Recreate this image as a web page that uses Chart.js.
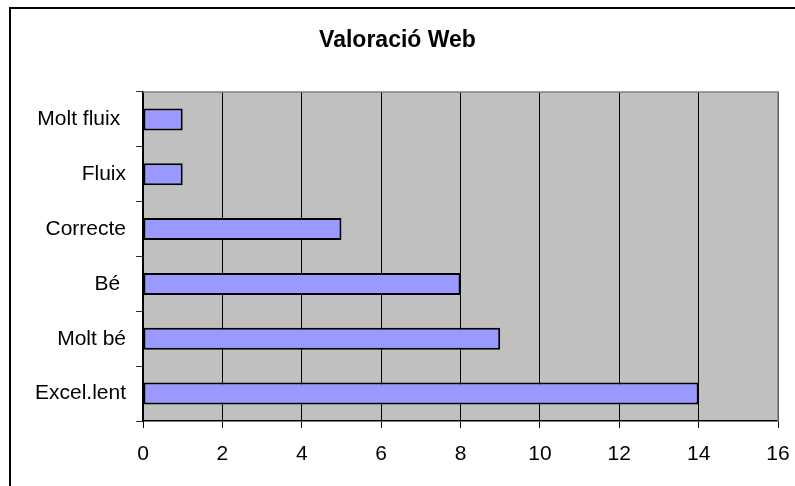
<!DOCTYPE html>
<html>
<head>
<meta charset="utf-8">
<script src="https://cdn.jsdelivr.net/npm/chart.js@4/dist/chart.umd.min.js"></script>
<style>
  html, body { margin:0; padding:0; background:#fff; }
  #wrap { width:795px; height:486px; }
</style>
</head>
<body>
<div id="wrap"><canvas id="chart" width="795" height="486"></canvas></div>
<script>
// Valoració Web - horizontal bar chart

const categories = ['Molt fluix ', 'Fluix', 'Correcte', 'Bé ', 'Molt bé', 'Excel.lent'];
const votes      = [1, 1, 5, 8, 9, 14];
const xTicks     = [0, 2, 4, 6, 8, 10, 12, 14, 16];

const FONT = "Arial, 'Liberation Sans', sans-serif";

// page frame + grey plot background, Excel style
const excelFrame = {
  id: 'excelFrame',
  beforeDraw(chart) {
    const { ctx, chartArea: a } = chart;
    ctx.save();
    ctx.fillStyle = '#fff';
    ctx.fillRect(0, 0, chart.width, chart.height);
    ctx.strokeStyle = '#000';
    ctx.lineWidth = 2;
    ctx.strokeRect(10, 8, chart.width + 20, chart.height + 20);
    ctx.fillStyle = '#C0C0C0';
    ctx.fillRect(a.left, a.top, a.right - a.left, a.bottom - a.top);
    ctx.restore();
  },
  afterDraw(chart) {
    const { ctx, chartArea: a } = chart;
    ctx.save();
    ctx.strokeStyle = '#808080';
    ctx.lineWidth = 1.5;
    ctx.beginPath();
    ctx.moveTo(a.left, a.top);
    ctx.lineTo(a.right, a.top);
    ctx.lineTo(a.right, a.bottom);
    ctx.stroke();
    ctx.restore();
  }
};

new Chart(document.getElementById('chart').getContext('2d'), {
  type: 'bar',
  data: {
    labels: categories,
    datasets: [{
      label: 'Valoració',
      data: votes,
      backgroundColor: '#9999FF',
      borderColor: '#000',
      borderWidth: 2,
      borderSkipped: false,
      barPercentage: 0.5,
      categoryPercentage: 0.8
    }]
  },
  options: {
    indexAxis: 'y',
    responsive: false,
    animation: false,
    layout: { padding: 0 },
    plugins: {
      legend: { display: false },
      tooltip: { enabled: false },
      title: {
        display: true,
        text: 'Valoració Web',
        color: '#000',
        font: { family: FONT, size: 23, weight: 'bold', lineHeight: 1.2 },
        padding: { top: 27.2, bottom: 37.2 }
      }
    },
    scales: {
      x: {
        min: 0, max: 16,
        afterBuildTicks: s => { s.ticks = xTicks.map(v => ({ value: v })); },
        afterFit: s => { s.height = 65; s.paddingLeft = 0; s.paddingRight = 17; },
        border: { color: '#000', width: 1.5 },
        grid: { color: '#000', lineWidth: 1, tickLength: 7, tickColor: '#000' },
        ticks: { color: '#000', padding: 14, font: { family: FONT, size: 21 } }
      },
      y: {
        afterFit: s => { s.width = 143; s.paddingTop = 0; s.paddingBottom = 0; },
        border: { color: '#000', width: 1.5 },
        grid: { offset: true, drawOnChartArea: false, tickLength: 7, tickColor: '#333' },
        ticks: { color: '#000', padding: 10, font: { family: FONT, size: 21 } }
      }
    }
  },
  plugins: [excelFrame]
});
</script>
</body>
</html>
